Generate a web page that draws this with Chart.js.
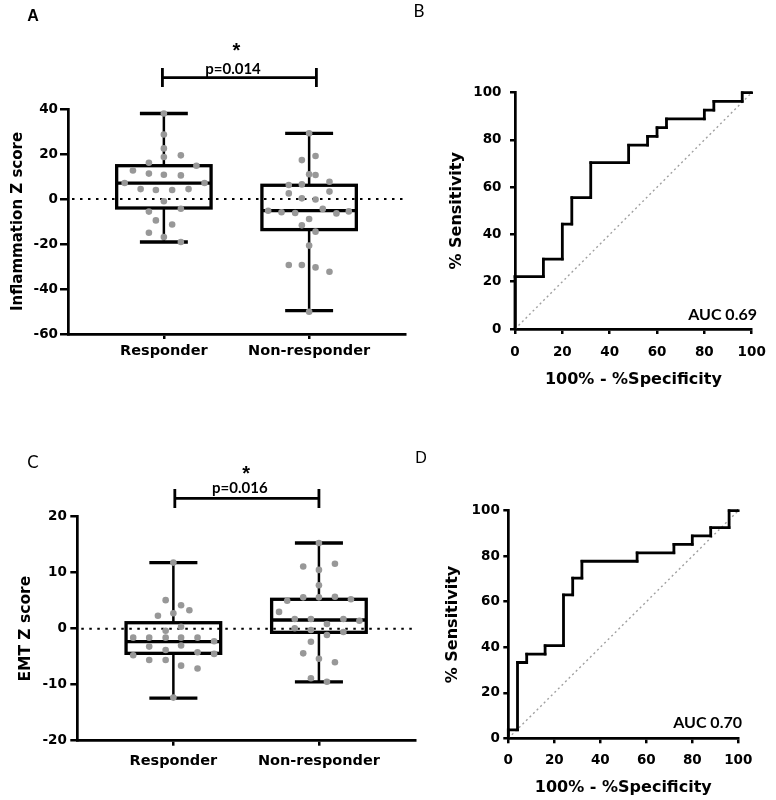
<!DOCTYPE html>
<html>
<head>
<meta charset="utf-8">
<script src="https://cdn.jsdelivr.net/npm/chart.js@4.4.0/dist/chart.umd.min.js"></script>
<style>
  body { margin: 0; background: #fff; }
  #wrap { position: relative; width: 776px; height: 800px; }
  #wrap canvas { position: absolute; left: 0; top: 0; }
</style>
</head>
<body>
<div id="wrap">
  <canvas id="chartA" width="776" height="800"></canvas>
  <canvas id="chartB" width="776" height="800"></canvas>
  <canvas id="chartC" width="776" height="800"></canvas>
  <canvas id="chartD" width="776" height="800"></canvas>
</div>
<script>
const categories = ['Responder', 'Non-responder'];

// A - Inflammation Z score
const inflResponder = [38, 28.7, 22.5, 18.7, 19.4, 16.1, 14.8, 12.7, 11.3, 10.8, 10.5, 7.1, 7.1, 4.4, 4.0, 4.0, 4.4, -1.0, -4.3, -5.6, -9.5, -11.3, -15, -16.9, -19.1];
const inflResponderSpread = [0, 0, 0, 0, 0.117, -0.103, 0.224, -0.213, -0.103, 0, 0.117, -0.27, 0.28, -0.16, -0.055, 0.057, 0.17, 0, 0.117, -0.103, -0.055, 0.057, -0.103, 0, 0.117];
const inflNonResponder = [29.2, 17.3, 19.1, 11.0, 10.7, 6.2, 6.5, 7.7, 2.5, 3.3, 0.3, -0.2, -5.2, -5.9, -6.2, -4.4, -6.4, -5.5, -8.9, -11.7, -14.5, -20.7, -29.3, -29.3, -30.4, -32.3, -50.1];
const inflNonResponderSpread = [0, -0.05, 0.044, 0, 0.044, -0.14, -0.05, 0.14, -0.14, 0.14, -0.05, 0.044, -0.282, -0.19, -0.096, 0.094, 0.188, 0.273, 0, -0.05, 0.044, 0, -0.14, -0.05, 0.044, 0.14, 0];
// min, q1, median, q3, max
const inflResponderBox = [-19.1, -4.0, 7.1, 14.8, 38];
const inflNonResponderBox = [-49.6, -13.6, -5.2, 6.1, 29.2];

// C - EMT Z score
const emtResponder = [11.8, 5.1, 4.2, 3.3, 2.3, 2.75, 0.36, -0.36, -1.6, -1.6, -1.6, -1.6, -1.6, -2.25, -3.2, -3.0, -3.8, -4.2, -4.5, -4.75, -5.6, -5.6, -6.6, -7.1, -12.3];
const emtResponderSpread = [0, -0.053, 0.053, 0.11, -0.106, 0, 0.053, -0.053, -0.276, -0.166, -0.053, 0.053, 0.166, 0.28, -0.166, 0.053, -0.053, 0.166, 0.28, -0.276, -0.166, -0.053, 0.053, 0.166, 0];
const emtNonResponder = [15.3, 11.1, 11.6, 10.5, 7.75, 5.0, 5.6, 5.6, 5.7, 5.25, 3.0, 1.73, 1.73, 0.84, 1.73, 1.43, 0.07, -0.23, -1.13, -0.59, -2.32, -4.4, -5.36, -6.0, -8.86, -9.46];
const emtNonResponderSpread = [0, -0.108, 0.11, 0, 0, -0.218, -0.108, 0, 0.11, 0.22, -0.274, -0.166, -0.055, 0.055, 0.168, 0.278, -0.166, -0.055, 0.055, 0.168, -0.055, -0.108, 0, 0.11, -0.055, 0.055];
const emtResponderBox = [-12.4, -4.4, -2.3, 1.07, 11.8];
const emtNonResponderBox = [-9.5, -0.65, 1.55, 5.25, 15.3];

// B / D - ROC curves (staircase corners)
const rocInflFpr = [0, 0, 12, 12, 20, 20, 24, 24, 32, 32, 48, 48, 56, 56, 60, 60, 64, 64, 80, 80, 84, 84, 96, 96, 100];
const rocInflTpr = [0, 22.2, 22.2, 29.6, 29.6, 44.4, 44.4, 55.6, 55.6, 70.4, 70.4, 77.8, 77.8, 81.5, 81.5, 85.2, 85.2, 88.9, 88.9, 92.6, 92.6, 96.3, 96.3, 100, 100];
const rocEmtFpr = [0, 0, 4, 4, 8, 8, 16, 16, 24, 24, 28, 28, 32, 32, 56, 56, 72, 72, 80, 80, 88, 88, 96, 96, 100];
const rocEmtTpr = [0, 3.7, 3.7, 33.3, 33.3, 37, 37, 40.7, 40.7, 63, 63, 70.4, 70.4, 77.8, 77.8, 81.5, 81.5, 85.2, 85.2, 88.9, 88.9, 92.6, 92.6, 100, 100];
const rocTicks = [0, 20, 40, 60, 80, 100];

const BOLD_FONT = '"DejaVu Sans", sans-serif';
const BOX_HALF = 0.325;
const CAP_HALF = 0.165;

// draws free text (panel letters, AUC, p values)
const textPlugin = {
  id: 'panelText',
  afterDraw(chart, args, opts) {
    const ctx = chart.ctx;
    (opts.items || []).forEach(t => {
      ctx.save();
      ctx.font = t.font;
      ctx.fillStyle = '#000';
      ctx.textAlign = t.align || 'center';
      ctx.textBaseline = t.baseline || 'middle';
      const x = t.xValue !== undefined ? chart.scales.x.getPixelForValue(t.xValue) : t.x;
      const y = t.fromTop !== undefined ? chart.chartArea.top + t.fromTop : t.y;
      ctx.fillText(t.text, x, y);
      ctx.restore();
    });
  }
};

const boxPlugin = {
  id: 'boxPanel',
  beforeDatasetsDraw(chart, args, opts) {
    const xs = chart.scales.x, ys = chart.scales.y, ctx = chart.ctx;
    const area = chart.chartArea;
    const line = (x1, y1, x2, y2) => { ctx.beginPath(); ctx.moveTo(x1, y1); ctx.lineTo(x2, y2); ctx.stroke(); };
    ctx.save();
    ctx.strokeStyle = '#000';
    // dotted zero line
    ctx.lineWidth = 2;
    ctx.setLineDash([2.5, 5.5]);
    line(area.left + 4, ys.getPixelForValue(0), area.right, ys.getPixelForValue(0));
    ctx.setLineDash([]);
    opts.boxes.forEach((b, i) => {
      const cx = xs.getPixelForValue(i + 1);
      const half = xs.getPixelForValue(i + 1 + BOX_HALF) - cx;
      const cap = xs.getPixelForValue(i + 1 + CAP_HALF) - cx;
      const [lo, q1, med, q3, hi] = b.map(v => ys.getPixelForValue(v));
      ctx.lineWidth = 2.5;
      line(cx, lo, cx, q1);
      line(cx, q3, cx, hi);
      ctx.lineWidth = 3.3;
      line(cx - cap, lo, cx + cap, lo);
      line(cx - cap, hi, cx + cap, hi);
      ctx.strokeRect(cx - half, q3, 2 * half, q1 - q3);
      line(cx - half, med, cx + half, med);
    });
    ctx.restore();
  },
  afterDraw(chart, args, opts) {
    const br = opts.bracket;
    if (!br) return;
    const ctx = chart.ctx, xs = chart.scales.x, top = chart.chartArea.top;
    const x1 = xs.getPixelForValue(br.from), x2 = xs.getPixelForValue(br.to);
    ctx.save();
    ctx.strokeStyle = '#000';
    ctx.lineWidth = 2.8;
    ctx.beginPath();
    ctx.moveTo(x1, top + br.tickTop); ctx.lineTo(x1, top + br.tickBottom);
    ctx.moveTo(x2, top + br.tickTop); ctx.lineTo(x2, top + br.tickBottom);
    ctx.moveTo(x1, top + br.y); ctx.lineTo(x2, top + br.y);
    ctx.stroke();
    ctx.restore();
  }
};

function dots(values, spread, group) {
  return values.map((v, i) => ({ x: group + spread[i], y: v }));
}

function axisGrid(tickLength) {
  return { drawOnChartArea: false, drawTicks: true, tickLength: tickLength, color: '#000', lineWidth: 2.5 };
}

function boxChart(id, c) {
  return new Chart(document.getElementById(id), {
    type: 'scatter',
    data: {
      datasets: [
        { data: dots(c.resp, c.respSpread, 1) },
        { data: dots(c.nonResp, c.nonRespSpread, 2) }
      ]
    },
    options: {
      responsive: false,
      animation: false,
      devicePixelRatio: 1,
      layout: { padding: c.padding },
      elements: { point: { radius: 3.3, backgroundColor: '#989898', borderWidth: 0 } },
      plugins: {
        legend: { display: false },
        tooltip: { enabled: false },
        boxPanel: { boxes: c.boxes, bracket: c.bracket },
        panelText: { items: c.texts }
      },
      scales: {
        x: {
          type: 'linear', min: 0.34, max: 2.66,
          afterBuildTicks: s => { s.ticks = categories.map((name, i) => ({ value: i + 1 })); },
          ticks: {
            callback: v => categories[v - 1],
            font: { family: BOLD_FONT, size: 14.5, weight: 'bold' },
            color: '#000', padding: c.xTickPad, autoSkip: false, maxRotation: 0
          },
          grid: axisGrid(5),
          border: { color: '#000', width: 2.7 },
          afterFit: s => { s.height = 40; }
        },
        y: {
          min: c.yMin, max: c.yMax,
          ticks: { stepSize: c.step, font: { family: BOLD_FONT, size: 13.5, weight: 'bold' }, color: '#000', padding: c.yTickPad },
          grid: axisGrid(c.yTickLen),
          border: { color: '#000', width: 2.7 },
          title: { display: true, text: c.title, color: '#000', padding: 0, font: { family: BOLD_FONT, size: c.titleSize, weight: 'bold' } },
          afterFit: s => { s.width = c.yWidth; }
        }
      }
    },
    plugins: [boxPlugin, textPlugin]
  });
}

function rocChart(id, c) {
  return new Chart(document.getElementById(id), {
    type: 'scatter',
    data: {
      datasets: [
        {
          data: c.fpr.map((v, i) => ({ x: v, y: c.tpr[i] })),
          showLine: true, borderColor: '#000', borderWidth: 2.8,
          pointRadius: 1.8, pointStyle: 'rect', pointBackgroundColor: '#000', pointBorderWidth: 0, clip: false
        },
        {
          data: [{ x: 0, y: 0 }, { x: 100, y: 100 }],
          showLine: true, borderColor: '#a0a0a0', borderWidth: 1.4, borderDash: [2, 3], pointRadius: 0
        }
      ]
    },
    options: {
      responsive: false,
      animation: false,
      devicePixelRatio: 1,
      layout: { padding: c.padding },
      plugins: {
        legend: { display: false },
        tooltip: { enabled: false },
        panelText: { items: c.texts }
      },
      scales: {
        x: {
          type: 'linear', min: 0, max: 100,
          afterBuildTicks: s => { s.ticks = rocTicks.map(v => ({ value: v })); },
          ticks: { font: { family: BOLD_FONT, size: 13.5, weight: 'bold' }, color: '#000', padding: c.xTickPad, maxRotation: 0 },
          grid: axisGrid(5),
          border: { color: '#000', width: 2.7 },
          title: { display: true, text: '100% - %Specificity', color: '#000', padding: 0, font: { family: BOLD_FONT, size: 16, weight: 'bold' } },
          afterFit: s => { s.height = c.xHeight; }
        },
        y: {
          min: 0, max: 100,
          afterBuildTicks: s => { s.ticks = rocTicks.map(v => ({ value: v })); },
          ticks: { font: { family: BOLD_FONT, size: 13.5, weight: 'bold' }, color: '#000', padding: c.yTickPad },
          grid: axisGrid(5),
          border: { color: '#000', width: 2.7 },
          title: { display: true, text: '% Sensitivity', color: '#000', padding: 0, font: { family: BOLD_FONT, size: 16, weight: 'bold' } },
          afterFit: s => { s.width = c.yWidth; }
        }
      }
    },
    plugins: [textPlugin]
  });
}

boxChart('chartA', {
  resp: inflResponder, respSpread: inflResponderSpread,
  nonResp: inflNonResponder, nonRespSpread: inflNonResponderSpread,
  boxes: [inflResponderBox, inflNonResponderBox],
  yMin: -60, yMax: 40, step: 20,
  title: 'Inflammation Z score', titleSize: 15,
  padding: { left: 9, top: 109, right: 371, bottom: 426 },
  yWidth: 59, yTickLen: 8, yTickPad: 2, xTickPad: 4,
  bracket: { from: 0.99, to: 2.05, y: -31.3, tickTop: -41, tickBottom: -22 },
  texts: [
    { text: 'A', x: 33, y: 17, font: 'bold 16px "Liberation Sans"' },
    { text: 'p=0.014', xValue: 1.476, fromTop: -35, baseline: 'alphabetic', font: 'bold 15px Lato' },
    { text: '*', xValue: 1.5, fromTop: -52, baseline: 'alphabetic', font: 'bold 20px "Liberation Sans"' }
  ]
});

rocChart('chartB', {
  fpr: rocInflFpr, tpr: rocInflTpr,
  padding: { left: 447.4, top: 92.7, right: 24.3, bottom: 410.4 },
  yWidth: 67.6, xHeight: 60.6, yTickPad: 8.5, xTickPad: 10,
  texts: [
    { text: 'B', x: 419, y: 12, font: '17px Lato' },
    { text: 'AUC 0.69', x: 757, y: 315, align: 'right', font: 'bold 16px Lato' }
  ]
});

boxChart('chartC', {
  resp: emtResponder, respSpread: emtResponderSpread,
  nonResp: emtNonResponder, nonRespSpread: emtNonResponderSpread,
  boxes: [emtResponderBox, emtNonResponderBox],
  yMin: -20, yMax: 20, step: 10,
  title: 'EMT Z score', titleSize: 15.5,
  padding: { left: 16.7, top: 516.7, right: 361, bottom: 19.3 },
  yWidth: 60.6, yTickLen: 7, yTickPad: 3.5, xTickPad: 6.6,
  bracket: { from: 1.01, to: 2.0, y: -18.4, tickTop: -27.7, tickBottom: -8.7 },
  texts: [
    { text: 'C', x: 33, y: 463, font: '17px Lato' },
    { text: 'p=0.016', xValue: 1.457, fromTop: -23.7, baseline: 'alphabetic', font: 'bold 15px Lato' },
    { text: '*', xValue: 1.5, fromTop: -36.7, baseline: 'alphabetic', font: 'bold 20px "Liberation Sans"' }
  ]
});

rocChart('chartD', {
  fpr: rocEmtFpr, tpr: rocEmtTpr,
  padding: { left: 443.4, top: 510.7, right: 37.7, bottom: 2.4 },
  yWidth: 64.9, xHeight: 59.3, yTickPad: 3.5, xTickPad: 9.5,
  texts: [
    { text: 'D', x: 421, y: 459, font: '16px "Liberation Sans"' },
    { text: 'AUC 0.70', x: 742, y: 723, align: 'right', font: 'bold 16px Lato' }
  ]
});
</script>
</body>
</html>
